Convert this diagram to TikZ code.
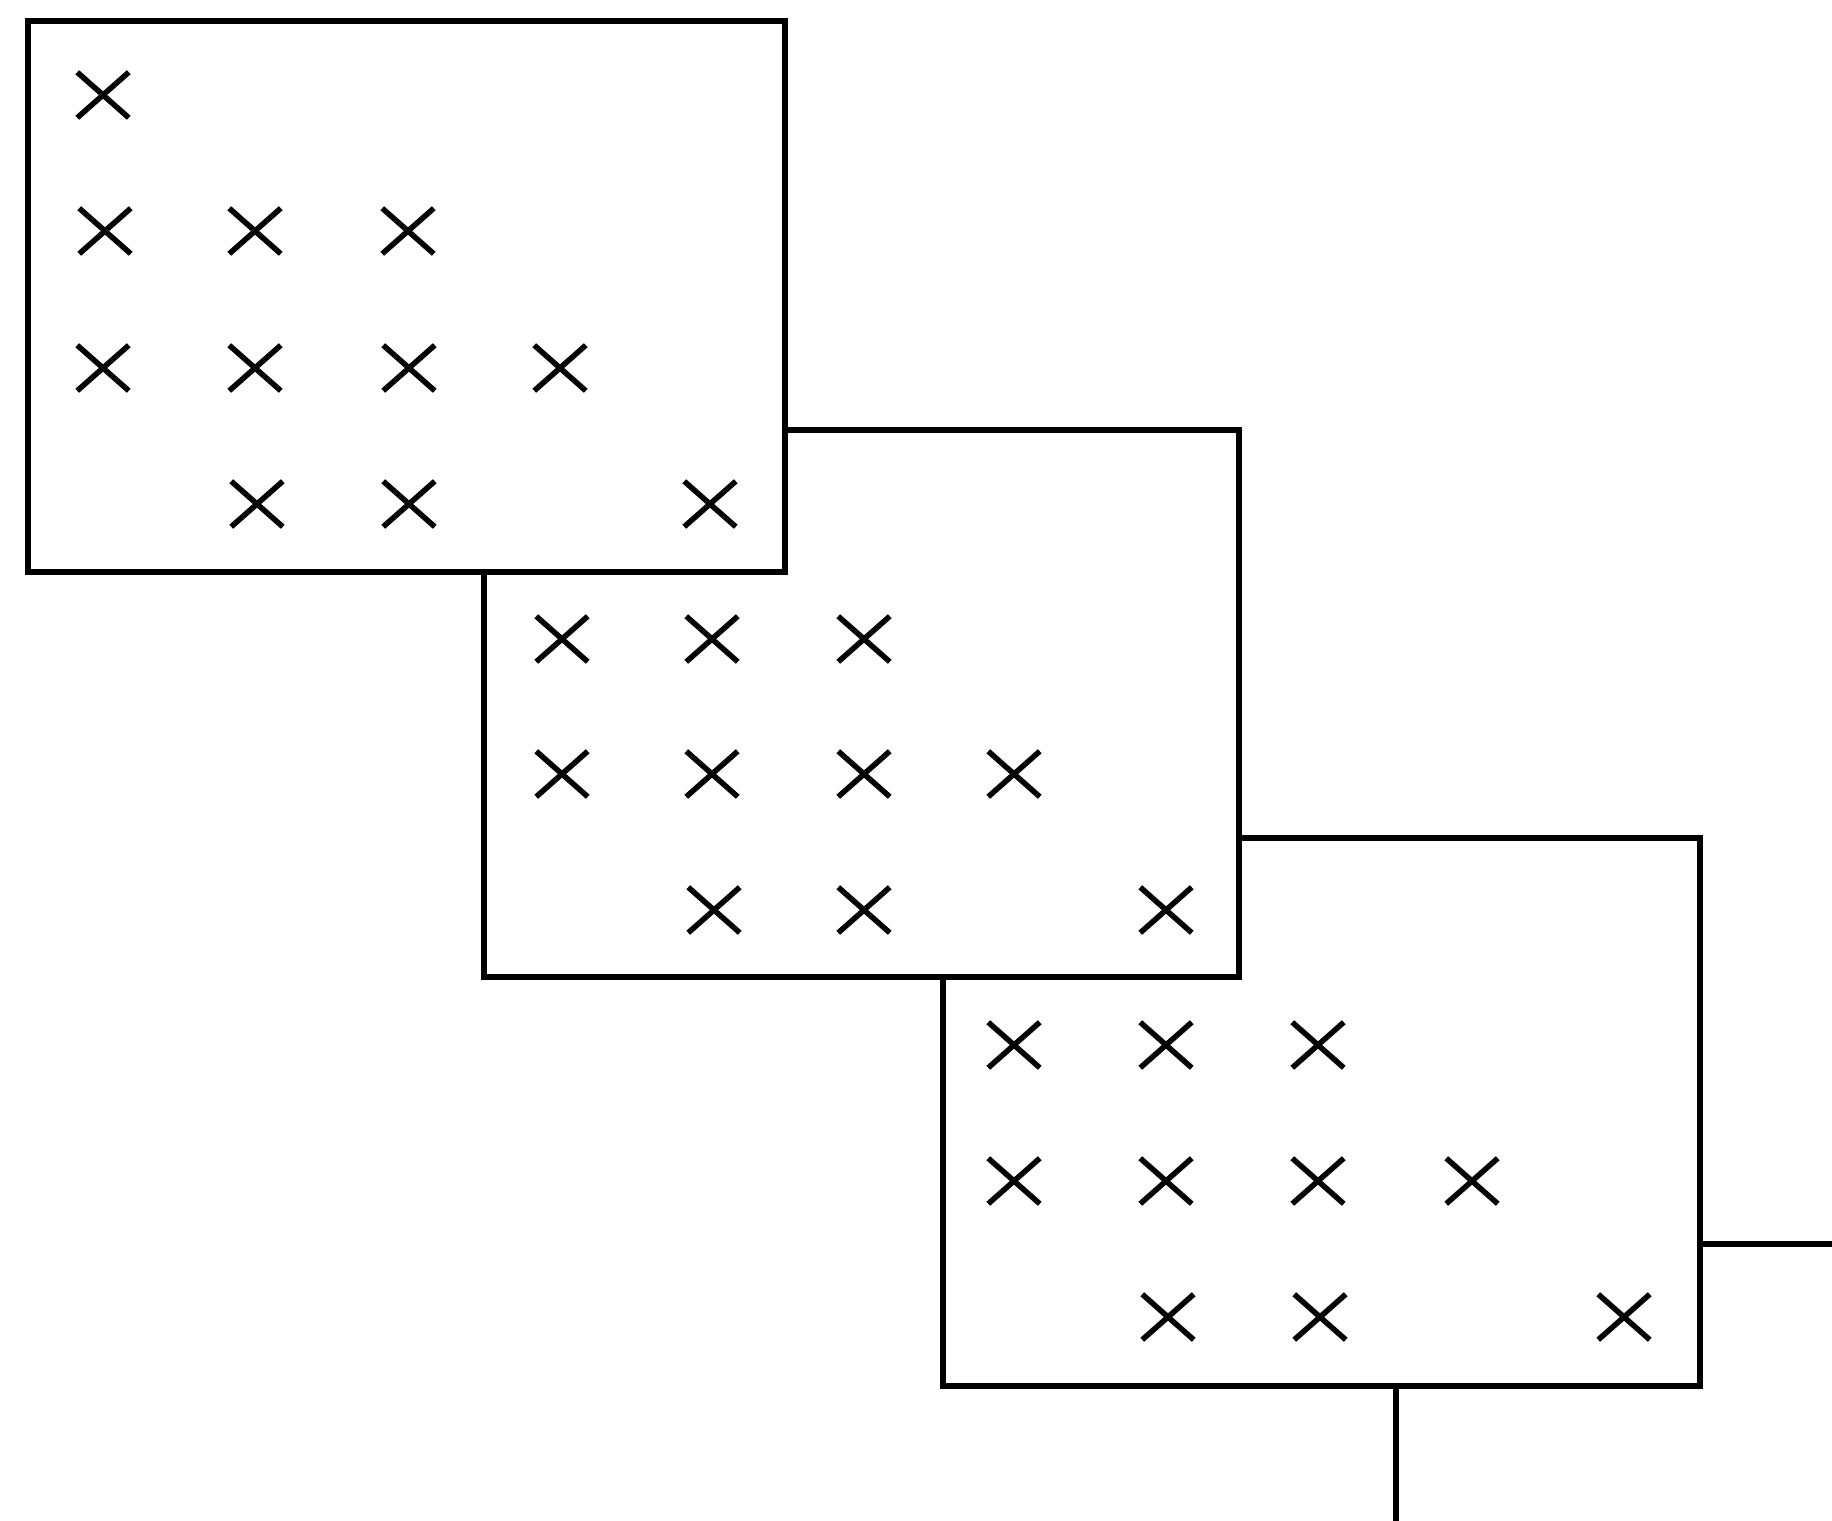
\documentclass[tikz,border=0pt]{standalone}
\usetikzlibrary{shapes.misc}
\begin{document}
\begin{tikzpicture}[x=1pt,y=-1pt,
  boxnode/.style={draw=black,fill=white,line width=6.5pt,inner sep=0pt,outer sep=0pt},
  xmark/.style={cross out,draw=black,line width=5.5pt,minimum width=46pt,minimum height=40pt,inner sep=0pt},
  wire/.style={draw=black,line width=6.5pt}]
\useasboundingbox (0,0) rectangle (1832,1521);
% connectors behind box 3
\coordinate (r) at (1832,1244);
\coordinate (d) at (1396,1521);
% box 3 (back)
\node[boxnode,minimum width=757pt,minimum height=548pt] (b3) at (1321.5,1112) {};
\draw[wire] (b3.east |- r) -- (r);
\draw[wire] (b3.south -| d) -- (d);
\foreach \x/\y [count=\i] in {1014/1045,1166/1045,1318/1045,
  1014/1181,1166/1181,1318/1181,1472/1181,
  1168/1317,1320/1317,1624/1317}
  \node[xmark] (c3-\i) at (\x,\y) {};
% box 2 (middle)
\node[boxnode,minimum width=755pt,minimum height=547pt] (b2) at (861.5,703.5) {};
\foreach \x/\y [count=\i] in {562/639,712/639,864/639,
  562/774,712/774,864/774,1014/774,
  714/910,864/910,1166/910}
  \node[xmark] (c2-\i) at (\x,\y) {};
% box 1 (front)
\node[boxnode,minimum width=757pt,minimum height=551pt] (b1) at (406.5,296.5) {};
\foreach \x/\y [count=\i] in {103/95,
  105/231,255/231,408/231,
  103/368,255/368,409/368,560/368,
  257/504,409/504,710/504}
  \node[xmark] (c1-\i) at (\x,\y) {};
\end{tikzpicture}
\end{document}
